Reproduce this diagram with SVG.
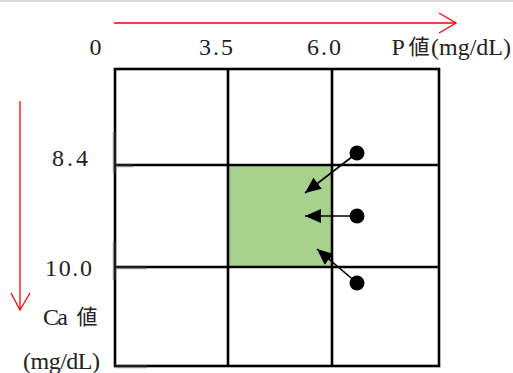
<svg xmlns="http://www.w3.org/2000/svg" width="513" height="373" viewBox="0 0 513 373">
<style>
.t{font-family:"Liberation Serif","Noto Sans CJK JP",serif;font-size:24px;fill:#222}
.k{font-family:"Noto Sans CJK JP",sans-serif;font-size:21px;fill:#222}
.g{stroke:#000;stroke-width:2.6;fill:none}
.r{stroke:#ff0000;stroke-width:1.3;fill:none}
.a{stroke:#000;stroke-width:1.6;fill:none;marker-end:url(#ah)}
</style>
<defs>
<marker id="ah" markerUnits="userSpaceOnUse" markerWidth="18" markerHeight="14" refX="16" refY="7" orient="auto">
<path d="M0,0 L16,7 L0,14 Z" fill="#000"/>
</marker>
</defs>
<rect width="513" height="373" fill="#fff"/>
<rect x="0" y="0" width="513" height="2" fill="#d9d9d9"/>
<g id="cell-normal">
<rect x="228" y="165" width="104" height="102" fill="#a9d18e"/>
</g>
<g id="grid">
<rect class="g" x="115" y="69" width="324" height="297"/>
<line class="g" x1="228" y1="69" x2="228" y2="366"/>
<line class="g" x1="332" y1="69" x2="332" y2="366"/>
<line class="g" x1="115" y1="165" x2="439" y2="165"/>
<line class="g" x1="115" y1="267" x2="439" y2="267"/>
<g stroke="#8a8a8a" stroke-width="3.4">
<line x1="114.5" y1="132" x2="114.5" y2="173"/>
<line x1="115" y1="165.5" x2="133" y2="165.5"/>
<line x1="114.5" y1="242" x2="114.5" y2="280"/>
<line x1="115" y1="267.5" x2="147" y2="267.5"/>
<line x1="115" y1="366.5" x2="147" y2="366.5"/>
</g>
<g stroke="#111" stroke-width="1.8">
<line x1="115" y1="132" x2="115" y2="173"/>
<line x1="115" y1="165" x2="133" y2="165"/>
<line x1="115" y1="242" x2="115" y2="280"/>
<line x1="115" y1="267" x2="147" y2="267"/>
<line x1="115" y1="366" x2="147" y2="366"/>
</g>
</g>
<g id="axes">
<line class="r" x1="114" y1="23" x2="456" y2="23"/>
<polyline class="r" points="439,13 456,23 439,33"/>
<line class="r" x1="20" y1="101" x2="20" y2="310"/>
<polyline class="r" points="11,293 20,310 30,293"/>
</g>
<g id="points">
<circle cx="357" cy="153" r="7.5" fill="#000"/>
<circle cx="357" cy="216" r="7.5" fill="#000"/>
<circle cx="357" cy="283" r="7.5" fill="#000"/>
</g>
<g id="connectors">
<line class="a" x1="357" y1="153" x2="305" y2="193"/>
<line class="a" x1="357" y1="216" x2="305" y2="216"/>
<line class="a" x1="357" y1="283" x2="317" y2="249"/>
</g>
<g id="labels">
<text class="t" x="89.5" y="55">0</text>
<text class="t" x="199" y="55" textLength="34" lengthAdjust="spacing">3.5</text>
<text class="t" x="307" y="55" textLength="34" lengthAdjust="spacing">6.0</text>
<text class="t" x="391.5" y="55">P</text>
<text class="k" x="408.5" y="54">値</text>
<text class="t" x="431" y="55" textLength="80" lengthAdjust="spacing">(mg/dL)</text>
<text class="t" x="52" y="166" textLength="36" lengthAdjust="spacing">8.4</text>
<text class="t" x="45" y="276" textLength="47" lengthAdjust="spacing">10.0</text>
<text class="t" x="43" y="325" textLength="25" lengthAdjust="spacing">Ca</text>
<text class="k" x="76.5" y="324">値</text>
<text class="t" x="23" y="369" textLength="77" lengthAdjust="spacing">(mg/dL)</text>
</g>
</svg>
